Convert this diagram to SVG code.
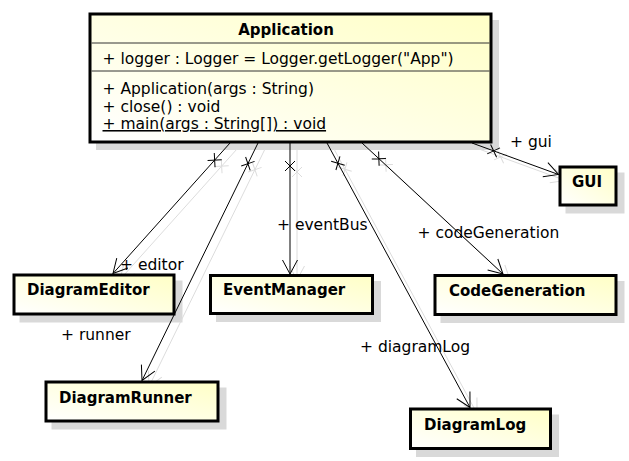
<svg xmlns="http://www.w3.org/2000/svg" width="629" height="461" viewBox="0 0 629 461">
<defs>
<linearGradient id="fill" x1="0" y1="1" x2="1" y2="0">
<stop offset="0" stop-color="#ffffff"/>
<stop offset="1" stop-color="#ffffc6"/>
</linearGradient>
<marker id="arr" markerUnits="userSpaceOnUse" orient="auto" overflow="visible" refX="0" refY="0" markerWidth="1" markerHeight="1">
<path d="M-14,-7.5 L0,0 L-14,7.5" fill="none" stroke="#000" stroke-width="1"/>
</marker>
<marker id="xend" markerUnits="userSpaceOnUse" orient="auto" overflow="visible" refX="0" refY="0" markerWidth="1" markerHeight="1">
<path d="M18,-5 L28,5 M18,5 L28,-5" fill="none" stroke="#000" stroke-width="1"/>
</marker>
<marker id="arrS" markerUnits="userSpaceOnUse" orient="auto" overflow="visible" refX="0" refY="0" markerWidth="1" markerHeight="1">
<path d="M-14,-7.5 L0,0 L-14,7.5" fill="none" stroke="#dcdcdc" stroke-width="1"/>
</marker>
<marker id="xendS" markerUnits="userSpaceOnUse" orient="auto" overflow="visible" refX="0" refY="0" markerWidth="1" markerHeight="1">
<path d="M18,-5 L28,5 M18,5 L28,-5" fill="none" stroke="#dcdcdc" stroke-width="1"/>
</marker>
</defs>
<style>
.box{fill:url(#fill);stroke:#000;stroke-width:3}
.shadow{fill:#d9d9d9}
.name{font-family:"DejaVu Sans",sans-serif;font-weight:bold;font-size:15px;fill:#000}
.txt{font-family:"DejaVu Sans",sans-serif;font-size:15.5px;fill:#000}
.sep{stroke:#333;stroke-width:1}
.conn{fill:none;stroke:#000;stroke-width:1;marker-start:url(#xend);marker-end:url(#arr)}
.connS{fill:none;stroke:#dcdcdc;stroke-width:1;marker-start:url(#xendS);marker-end:url(#arrS)}
</style>
<rect width="629" height="461" fill="#ffffff"/>
<g id="shadows">
<rect class="shadow" x="96" y="20" width="403" height="130"/>
<rect class="shadow" x="19.5" y="280.5" width="163" height="42"/>
<rect class="shadow" x="216" y="281" width="165" height="41"/>
<rect class="shadow" x="440.5" y="281" width="184" height="42"/>
<rect class="shadow" x="565.5" y="172.5" width="59" height="41"/>
<rect class="shadow" x="51.5" y="387.5" width="175" height="42"/>
<rect class="shadow" x="416" y="414.5" width="143" height="42.5"/>
<g transform="translate(7,6)">
<path class="connS" d="M230,143 L113,273.5"/>
<path class="connS" d="M258,143 L142,380.5"/>
<path class="connS" d="M290,143 L290,274"/>
<path class="connS" d="M327,143 L470,407.5"/>
<path class="connS" d="M362,143 L503,274"/>
<path class="connS" d="M472,143 L558.5,174.5"/>
</g>
</g>
<g id="connectors">
<path class="conn" d="M230,143 L113,273.5"/>
<path class="conn" d="M258,143 L142,380.5"/>
<path class="conn" d="M290,143 L290,274"/>
<path class="conn" d="M327,143 L470,407.5"/>
<path class="conn" d="M362,143 L503,274"/>
<path class="conn" d="M472,143 L558.5,174.5"/>
<text class="txt" x="120" y="270">+ editor</text>
<text class="txt" x="61" y="340">+ runner</text>
<text class="txt" x="277" y="230">+ eventBus</text>
<text class="txt" x="360" y="352">+ diagramLog</text>
<text class="txt" x="417.5" y="238">+ codeGeneration</text>
<text class="txt" x="510" y="147">+ gui</text>
</g>
<g id="Application">
<rect class="box" x="90" y="14" width="401" height="128"/>
<line class="sep" x1="91.5" y1="43" x2="489.5" y2="43"/>
<line class="sep" x1="91.5" y1="71" x2="489.5" y2="71"/>
<text class="name" x="286" y="35" text-anchor="middle">Application</text>
<text class="txt" x="102.5" y="64">+ logger : Logger = Logger.getLogger("App")</text>
<text class="txt" x="102.5" y="94">+ Application(args : String)</text>
<text class="txt" x="102.5" y="111.5">+ close() : void</text>
<text class="txt" x="102.5" y="129" text-decoration="underline">+ main(args : String[]) : void</text>
</g>
<g id="DiagramEditor">
<rect class="box" x="14" y="275" width="160" height="39"/>
<text class="name" x="27" y="295">DiagramEditor</text>
</g>
<g id="EventManager">
<rect class="box" x="210.5" y="275.5" width="162" height="38"/>
<text class="name" x="223" y="295">EventManager</text>
</g>
<g id="CodeGeneration">
<rect class="box" x="435" y="275.5" width="181" height="39"/>
<text class="name" x="449" y="295.5">CodeGeneration</text>
</g>
<g id="GUI">
<rect class="box" x="560" y="167" width="56" height="38"/>
<text class="name" x="572" y="187">GUI</text>
</g>
<g id="DiagramRunner">
<rect class="box" x="46" y="382" width="172" height="39"/>
<text class="name" x="59" y="403">DiagramRunner</text>
</g>
<g id="DiagramLog">
<rect class="box" x="410.5" y="409" width="140" height="39.5"/>
<text class="name" x="424" y="430">DiagramLog</text>
</g>
</svg>
